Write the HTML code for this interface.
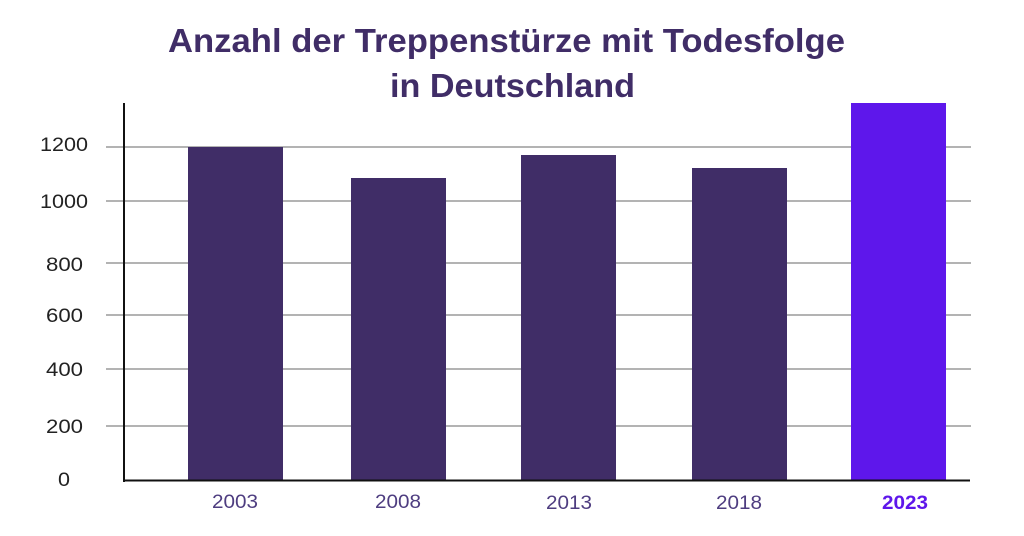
<!DOCTYPE html>
<html><head><meta charset="utf-8"><style>
html,body{margin:0;padding:0;background:#fff;}
svg{display:block;}
</style></head><body>
<svg width="1024" height="536" viewBox="0 0 1024 536" xmlns="http://www.w3.org/2000/svg">
<rect width="1024" height="536" fill="#fff"/>
<text x="168" y="52" font-family="Liberation Sans, sans-serif" font-weight="bold" font-size="33" fill="#402d67" textLength="677" lengthAdjust="spacingAndGlyphs">Anzahl der Treppenstürze mit Todesfolge</text>
<text x="390" y="97" font-family="Liberation Sans, sans-serif" font-weight="bold" font-size="33" fill="#402d67" textLength="245" lengthAdjust="spacingAndGlyphs">in Deutschland</text>
<g stroke="#b3b3b3" stroke-width="2">
<line x1="106" y1="147" x2="971" y2="147"/>
<line x1="106" y1="201" x2="971" y2="201"/>
<line x1="106" y1="263" x2="971" y2="263"/>
<line x1="106" y1="315" x2="971" y2="315"/>
<line x1="106" y1="369" x2="971" y2="369"/>
<line x1="106" y1="426" x2="971" y2="426"/>
</g>
<g fill="#402d67">
<rect x="188" y="147" width="95" height="334"/>
<rect x="351" y="178" width="95" height="303"/>
<rect x="521" y="155" width="95" height="326"/>
<rect x="692" y="168" width="95" height="313"/>
</g>
<rect x="851" y="103" width="95" height="378" fill="#5e17eb"/>
<line x1="124" y1="103" x2="124" y2="482" stroke="#111" stroke-width="2"/>
<line x1="123" y1="480.5" x2="970" y2="480.5" stroke="#111" stroke-width="2"/>
<g font-family="Liberation Sans, sans-serif" font-size="19" fill="#222">
<text x="40" y="151" textLength="48" lengthAdjust="spacingAndGlyphs">1200</text>
<text x="40" y="208" textLength="48" lengthAdjust="spacingAndGlyphs">1000</text>
<text x="46" y="271" textLength="37" lengthAdjust="spacingAndGlyphs">800</text>
<text x="46" y="322" textLength="37" lengthAdjust="spacingAndGlyphs">600</text>
<text x="46" y="376" textLength="37" lengthAdjust="spacingAndGlyphs">400</text>
<text x="46" y="433" textLength="37" lengthAdjust="spacingAndGlyphs">200</text>
<text x="58" y="486" textLength="12" lengthAdjust="spacingAndGlyphs">0</text>
</g>
<g font-family="Liberation Sans, sans-serif" font-size="19" fill="#4e3d80">
<text x="212" y="508" textLength="46" lengthAdjust="spacingAndGlyphs">2003</text>
<text x="375" y="508" textLength="46" lengthAdjust="spacingAndGlyphs">2008</text>
<text x="546" y="509" textLength="46" lengthAdjust="spacingAndGlyphs">2013</text>
<text x="716" y="509" textLength="46" lengthAdjust="spacingAndGlyphs">2018</text>
</g>
<text x="882" y="509" font-family="Liberation Sans, sans-serif" font-size="19" font-weight="bold" fill="#5e17eb" textLength="46" lengthAdjust="spacingAndGlyphs">2023</text>
</svg>
</body></html>
